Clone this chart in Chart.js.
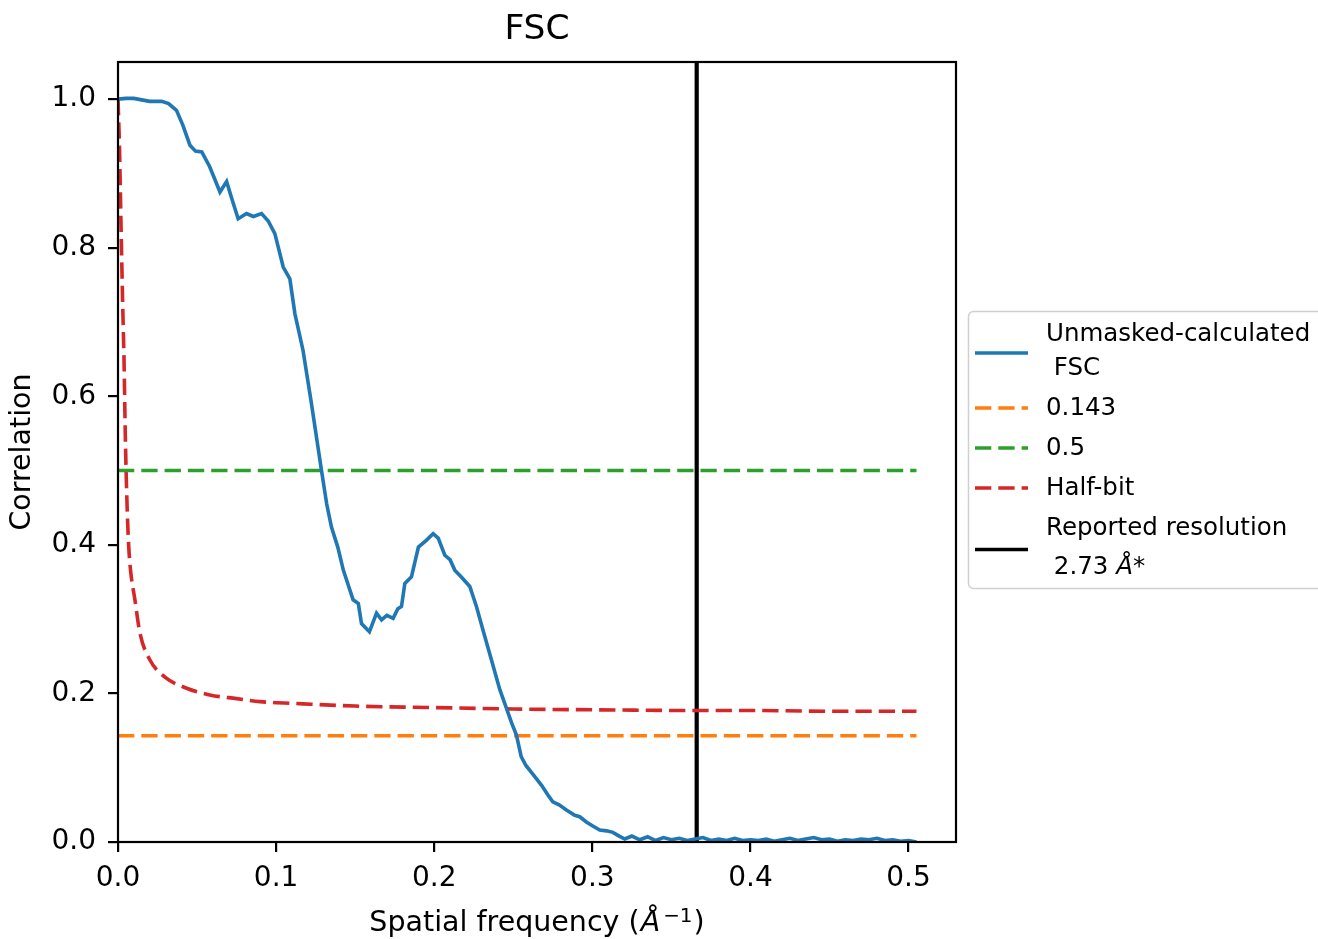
<!DOCTYPE html>
<html>
<head>
<meta charset="utf-8">
<title>FSC</title>
<script src="https://cdn.jsdelivr.net/npm/chart.js@4.4.0/dist/chart.umd.min.js"></script>
<style>
  html, body { margin: 0; padding: 0; background: #fff; overflow: hidden; width: 1318px; height: 939px; }
  #wrap { position: relative; width: 1318px; height: 939px; }
</style>
</head>
<body>
<div id="wrap"><canvas id="myChart" width="1318" height="939"></canvas></div>
<script>
// values
const fscFreq = [
  0, 0.005, 0.01, 0.015, 0.02, 0.0276, 0.032, 0.037, 0.041, 0.0455,
  0.049, 0.053, 0.058, 0.0645, 0.0687, 0.072, 0.076, 0.0813, 0.0856, 0.0908,
  0.095, 0.0992, 0.1045, 0.1087, 0.1119, 0.117, 0.122, 0.1287, 0.132, 0.135,
  0.139, 0.1425, 0.1487, 0.152, 0.154, 0.159, 0.1635, 0.1667, 0.17, 0.174,
  0.177, 0.1793, 0.1814, 0.1856, 0.19, 0.195, 0.1993, 0.2025, 0.2067, 0.21,
  0.213, 0.217, 0.2225, 0.2267, 0.231, 0.235, 0.2415, 0.2457, 0.249, 0.252,
  0.255, 0.258, 0.2636, 0.268, 0.272, 0.275, 0.279, 0.2836, 0.2889, 0.292,
  0.2962, 0.300, 0.3047, 0.309, 0.313, 0.317, 0.3205, 0.325, 0.33, 0.335,
  0.34, 0.345, 0.35, 0.355, 0.36, 0.365, 0.37, 0.375, 0.38, 0.385,
  0.39, 0.395, 0.4, 0.405, 0.41, 0.415, 0.42, 0.425, 0.43, 0.435,
  0.44, 0.445, 0.45, 0.455, 0.46, 0.465, 0.47, 0.475, 0.48, 0.485,
  0.49, 0.495, 0.5, 0.505
];
const fscValues = [
  1.0, 1.001, 1.001, 0.999, 0.997, 0.997, 0.994, 0.985, 0.965, 0.938,
  0.930, 0.929, 0.909, 0.875, 0.889, 0.866, 0.839, 0.846, 0.842, 0.846,
  0.836, 0.819, 0.774, 0.758, 0.711, 0.662, 0.595, 0.500, 0.455, 0.424,
  0.397, 0.366, 0.326, 0.321, 0.294, 0.283, 0.308, 0.299, 0.305, 0.301,
  0.314, 0.317, 0.348, 0.357, 0.397, 0.406, 0.415, 0.409, 0.386, 0.380,
  0.366, 0.357, 0.344, 0.317, 0.284, 0.254, 0.205, 0.180, 0.160, 0.144,
  0.115, 0.103, 0.088, 0.076, 0.063, 0.054, 0.050, 0.043, 0.036, 0.034,
  0.027, 0.022, 0.016, 0.015, 0.013, 0.008, 0.004, 0.008, 0.003, 0.007,
  0.002, 0.006, 0.003, 0.005, 0.002, 0.004, 0.006, 0.002, 0.004, 0.002,
  0.005, 0.002, 0.003, 0.002, 0.004, 0.001, 0.003, 0.005, 0.002, 0.004,
  0.006, 0.003, 0.004, 0.001, 0.003, 0.002, 0.004, 0.003, 0.005, 0.002,
  0.003, 0.001, 0.002, 0.0
];
const halfBitFreq = [
  0, 0.001, 0.002, 0.003, 0.0038, 0.0046, 0.0055, 0.0065, 0.0076, 0.0107,
  0.0139, 0.0202, 0.0297, 0.0434, 0.058, 0.075, 0.0898, 0.117, 0.15, 0.2,
  0.25, 0.3, 0.366, 0.4, 0.45, 0.505
];
const halfBitValues = [
  1.0, 0.93, 0.82, 0.72, 0.65, 0.55, 0.47, 0.41, 0.373, 0.326,
  0.281, 0.245, 0.222, 0.207, 0.198, 0.193, 0.189, 0.186, 0.183, 0.181,
  0.179, 0.178, 0.177, 0.177, 0.176, 0.176
];
const thresholdFreq = [0, 0.505];
const threshold143 = [0.143, 0.143];
const threshold05 = [0.5, 0.5];
const resolutionFreq = [0.366, 0.366];
const resolutionRange = [0, 1.05];
const legendLabels = [
  ['Unmasked-calculated', ' FSC'],
  ['0.143'],
  ['0.5'],
  ['Half-bit'],
  ['Reported resolution', ' 2.73 Å*']
];

const FONT = 'DejaVu Sans';
const DASH = [16.3, 7];

function toPoints(xs, ys) {
  return xs.map((x, i) => ({ x: x, y: ys[i] }));
}

// text with the Å set in italic, like matplotlib mathtext
function drawMixed(ctx, txt, x, y, size) {
  const parts = txt.split(/(Å)/).filter((p) => p.length);
  parts.forEach((p) => {
    ctx.font = (p === 'Å' ? 'oblique ' : '') + size + 'px "' + FONT + '"';
    ctx.fillText(p, x, y);
    x += ctx.measureText(p).width;
  });
}

// matplotlib style frame round the axes
const frame = {
  id: 'frame',
  afterDraw(chart) {
    const { ctx, chartArea } = chart;
    ctx.save();
    ctx.strokeStyle = '#000';
    ctx.lineWidth = 2.2;
    ctx.strokeRect(chartArea.left, chartArea.top,
      chartArea.right - chartArea.left, chartArea.bottom - chartArea.top);
    ctx.restore();
  }
};

// x axis label with mathtext-like unit
const xTitle = {
  id: 'xTitle',
  afterDraw(chart) {
    const { ctx, chartArea } = chart;
    const size = 28.5;
    const parts = [
      { t: 'Spatial frequency (', f: size + 'px "' + FONT + '"', dy: 0, gap: 1 },
      { t: 'Å', f: 'oblique ' + size + 'px "' + FONT + '"', dy: 0, gap: 3 },
      { t: '\u22121', f: (size * 0.7) + 'px "' + FONT + '"', dy: -9, gap: 1 },
      { t: ')', f: size + 'px "' + FONT + '"', dy: 0, gap: 0 }
    ];
    ctx.save();
    ctx.fillStyle = '#000';
    ctx.textBaseline = 'alphabetic';
    let total = 0;
    parts.forEach((p) => { ctx.font = p.f; p.w = ctx.measureText(p.t).width; total += p.w + p.gap; });
    let x = (chartArea.left + chartArea.right) / 2 - total / 2;
    parts.forEach((p) => {
      ctx.font = p.f;
      ctx.fillText(p.t, x, 931 + p.dy);
      x += p.w + p.gap;
    });
    ctx.restore();
  }
};

// legend box outside the axes, on the right
const sideLegend = {
  id: 'sideLegend',
  afterDraw(chart) {
    const ctx = chart.ctx;
    ctx.save();
    ctx.fillStyle = 'rgba(255,255,255,0.8)';
    ctx.strokeStyle = '#d0d0d0';
    ctx.lineWidth = 1.5;
    ctx.beginPath();
    ctx.roundRect(968.5, 311.5, 400, 277, 5);
    ctx.fill();
    ctx.stroke();

    ctx.fillStyle = '#000';
    ctx.textBaseline = 'middle';
    let y = 335;
    chart.data.datasets.forEach((ds, i) => {
      const lines = legendLabels[i];
      const first = y;
      lines.forEach((txt, j) => {
        drawMixed(ctx, txt, 1046, y, 24.5);
        if (j < lines.length - 1) y += lines[j + 1].includes('Å') ? 39 : 34;
      });
      const mid = (first + y) / 2 + (lines.length > 1 ? 1 : -1);
      ctx.beginPath();
      ctx.strokeStyle = ds.borderColor;
      ctx.lineWidth = 3.6;
      ctx.setLineDash(ds.borderDash || []);
      ctx.moveTo(975, mid);
      ctx.lineTo(1028, mid);
      ctx.stroke();
      ctx.setLineDash([]);
      y += 40;
    });
    ctx.restore();
  }
};

function initChart(target) {
  const data = {
    datasets: [
      {
        label: 'Unmasked-calculated FSC',
        data: toPoints(fscFreq, fscValues),
        borderColor: '#1f77b4',
        borderWidth: 3.6
      },
      {
        label: '0.143',
        data: toPoints(thresholdFreq, threshold143),
        borderColor: '#ff7f0e',
        borderWidth: 3.6,
        borderDash: DASH
      },
      {
        label: '0.5',
        data: toPoints(thresholdFreq, threshold05),
        borderColor: '#2ca02c',
        borderWidth: 3.6,
        borderDash: DASH
      },
      {
        label: 'Half-bit',
        data: toPoints(halfBitFreq, halfBitValues),
        borderColor: '#d62728',
        borderWidth: 3.6,
        borderDash: DASH,
        cubicInterpolationMode: 'monotone'
      },
      {
        label: 'Reported resolution 2.73 Å*',
        data: toPoints(resolutionFreq, resolutionRange),
        borderColor: '#000000',
        borderWidth: 4.2
      }
    ]
  };

  const config = {
    type: 'line',
    data: data,
    options: {
      responsive: false,
      animation: false,
      layout: { padding: { left: 0, right: 362, top: 0, bottom: 0 } },
      elements: { point: { radius: 0 }, line: { tension: 0, borderCapStyle: 'butt' } },
      plugins: {
        legend: { display: false },
        tooltip: { enabled: false },
        title: {
          display: true,
          text: 'FSC',
          fullSize: false,
          color: '#000',
          font: { family: FONT, size: 34.5, weight: 'normal' },
          padding: { top: 9.3, bottom: 11.3 }
        }
      },
      scales: {
        x: {
          type: 'linear',
          min: 0,
          max: 0.53,
          border: { display: false },
          grid: { drawOnChartArea: false, color: '#000', lineWidth: 2.2, tickLength: 10 },
          ticks: {
            stepSize: 0.1,
            includeBounds: false,
            color: '#000',
            padding: 10,
            maxRotation: 0,
            font: { family: FONT, size: 28 },
            callback: (v) => v.toFixed(1)
          },
          title: { display: false },
          afterFit: (scale) => { scale.height = 97; }
        },
        y: {
          type: 'linear',
          min: 0,
          max: 1.05,
          border: { display: false },
          grid: { drawOnChartArea: false, color: '#000', lineWidth: 2.2, tickLength: 10 },
          ticks: {
            stepSize: 0.2,
            includeBounds: false,
            color: '#000',
            padding: 12,
            font: { family: FONT, size: 28 },
            callback: (v) => v.toFixed(1)
          },
          title: {
            display: true,
            text: 'Correlation',
            color: '#000',
            font: { family: FONT, size: 28.5 },
            padding: { top: 5, bottom: 0 }
          },
          afterFit: (scale) => { scale.width = 118; }
        }
      }
    },
    plugins: [frame, xTitle, sideLegend]
  };
  return new Chart(target, config);
}

document.addEventListener('DOMContentLoaded', () => {
  initChart(document.querySelector('#myChart'));
});
</script>
</body>
</html>
